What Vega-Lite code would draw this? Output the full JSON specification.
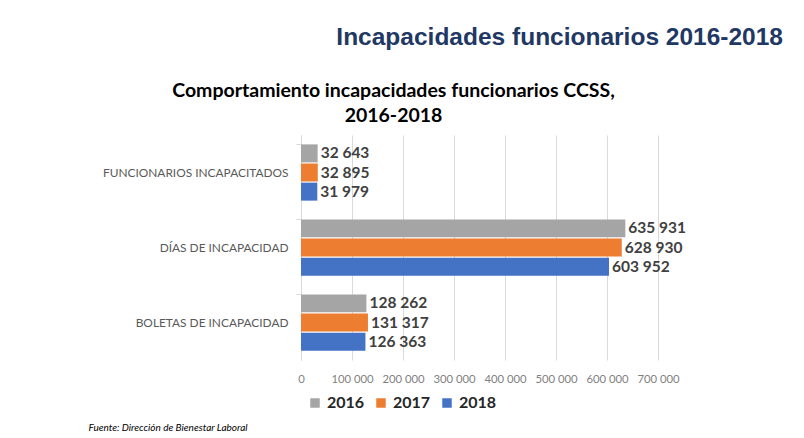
{
  "$schema": "https://vega.github.io/schema/vega-lite/v6.json",
  "padding": {"left": 88, "top": 24, "right": 5, "bottom": 5},
  "background": "white",
  "width": 357,
  "height": 225,
  "title": {"text": "Incapacidades funcionarios 2016-2018", "anchor": "end", "frame": "group", "font": "Liberation Sans", "fontSize": 24.5, "fontWeight": "bold", "color": "#1f3864", "dx": 125, "offset": 30},
  "config": {
    "locale": {"number": {"decimal": ",", "thousands": " ", "grouping": [3], "currency": ["", ""]}},
    "view": {"stroke": null}
  },
  "data": {"values": [
    {"categoria": "FUNCIONARIOS INCAPACITADOS", "anio": "2016", "valor": 32643},
    {"categoria": "FUNCIONARIOS INCAPACITADOS", "anio": "2017", "valor": 32895},
    {"categoria": "FUNCIONARIOS INCAPACITADOS", "anio": "2018", "valor": 31979},
    {"categoria": "DÍAS DE INCAPACIDAD", "anio": "2016", "valor": 635931},
    {"categoria": "DÍAS DE INCAPACIDAD", "anio": "2017", "valor": 628930},
    {"categoria": "DÍAS DE INCAPACIDAD", "anio": "2018", "valor": 603952},
    {"categoria": "BOLETAS DE INCAPACIDAD", "anio": "2016", "valor": 128262},
    {"categoria": "BOLETAS DE INCAPACIDAD", "anio": "2017", "valor": 131317},
    {"categoria": "BOLETAS DE INCAPACIDAD", "anio": "2018", "valor": 126363}
  ]},
  "encoding": {
    "y": {"field": "categoria", "type": "nominal", "sort": ["FUNCIONARIOS INCAPACITADOS", "DÍAS DE INCAPACIDAD", "BOLETAS DE INCAPACIDAD"], "title": null,
      "scale": {"paddingInner": 0.25, "paddingOuter": 0.125},
      "axis": {"labelFont": "Lato", "labelFontSize": 11.9, "labelColor": "#595959", "labelPadding": 8, "ticks": true, "bandPosition": 0, "tickSize": 5, "tickColor": "#d9d9d9", "domainColor": "#d9d9d9", "labelLimit": 300}},
    "yOffset": {"field": "anio", "type": "nominal", "sort": ["2016", "2017", "2018"], "scale": {"paddingInner": 0.06}}
  },
  "layer": [
    {"mark": {"type": "bar"},
     "encoding": {
       "x": {"field": "valor", "type": "quantitative", "scale": {"domain": [0, 700000]},
         "axis": {"values": [0, 100000, 200000, 300000, 400000, 500000, 600000, 700000], "format": ",d", "labelOverlap": false, "labelFlush": false, "labelFont": "Lato", "labelFontSize": 11.3, "labelColor": "#7f7f7f", "ticks": false, "domain": false, "gridColor": "#d9d9d9", "labelPadding": 13,
           "title": "Fuente: Dirección de Bienestar Laboral", "titleFont": "Lato", "titleFontSize": 10, "titleFontStyle": "italic", "titleFontWeight": "normal", "titleColor": "#000000", "titleAnchor": "start", "titleAlign": "left", "titleBaseline": "middle", "titleX": -213, "titleY": 67}},
       "color": {"field": "anio", "type": "nominal", "scale": {"domain": ["2016", "2017", "2018"], "range": ["#a5a5a5", "#ed7d31", "#4472c4"]},
         "legend": {"orient": "none", "legendX": 6, "legendY": 260, "direction": "horizontal", "title": null, "symbolType": "square", "symbolSize": 90, "symbolStrokeWidth": 0, "labelFont": "Lato", "labelFontWeight": "bold", "labelFontSize": 16, "labelColor": "#262626", "columnPadding": 8}}}},
    {"mark": {"type": "text", "align": "left", "baseline": "middle", "dx": 3, "font": "Lato", "fontWeight": "bold", "fontSize": 15.5, "color": "#404040"},
     "encoding": {
       "x": {"field": "valor", "type": "quantitative",
         "axis": {"orient": "top", "labels": false, "ticks": false, "domain": false, "grid": false,
           "title": ["Comportamiento incapacidades funcionarios CCSS,", "2016-2018"], "titleFont": "Lato", "titleFontSize": 19.5, "titleFontWeight": "bold", "titleColor": "#000000", "titleAnchor": "start", "titleAlign": "center", "titleBaseline": "alphabetic", "titleLineHeight": 25, "titleX": 92, "titleY": -39}},
       "text": {"field": "valor", "type": "quantitative", "format": ",d"}}}
  ],
  "resolve": {"axis": {"x": "independent"}}
}
